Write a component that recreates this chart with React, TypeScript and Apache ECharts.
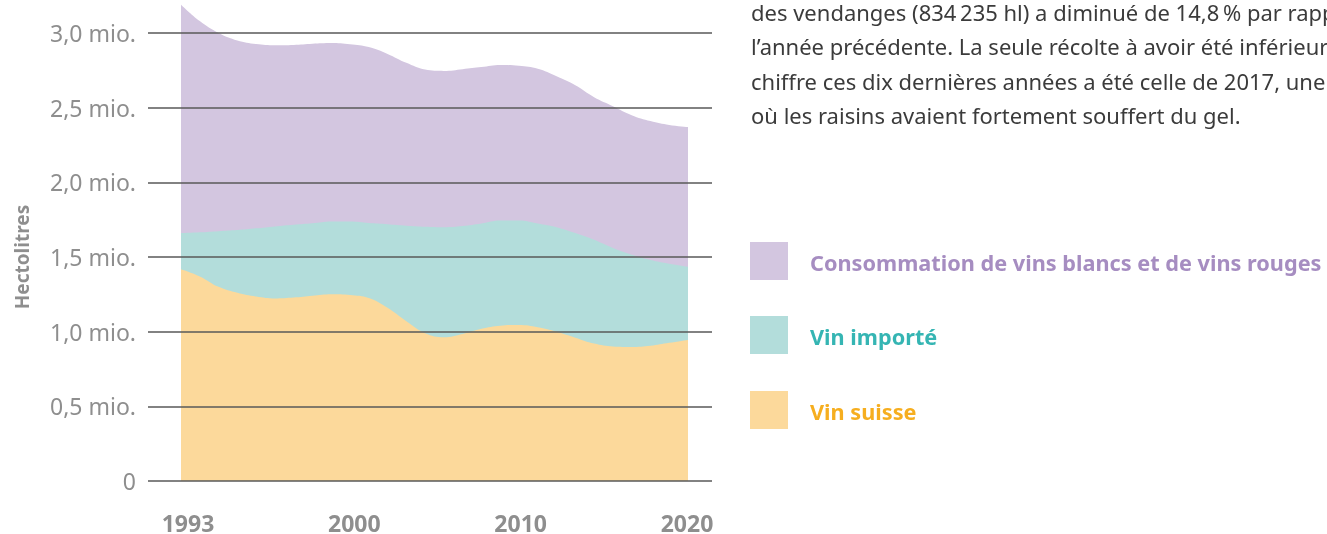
import React, { useEffect, useRef } from "react";
import * as echarts from "echarts";

const years = [1993, 1994, 1995, 1996, 1997, 1998, 1999, 2000, 2001, 2002, 2003, 2004, 2005, 2006, 2007, 2008, 2009, 2010, 2011, 2012, 2013, 2014, 2015, 2016, 2017, 2018, 2019, 2020];
// upper boundary of each layer, in millions of hectolitres
const consumptionTop = [3.19, 3.08, 3.0, 2.95, 2.926, 2.918, 2.92, 2.928, 2.933, 2.925, 2.906, 2.86, 2.8, 2.755, 2.746, 2.758, 2.772, 2.786, 2.78, 2.76, 2.71, 2.65, 2.57, 2.51, 2.45, 2.41, 2.384, 2.37];
const importedTop = [1.659, 1.665, 1.673, 1.68, 1.692, 1.705, 1.716, 1.726, 1.737, 1.738, 1.728, 1.72, 1.71, 1.703, 1.7, 1.708, 1.725, 1.745, 1.745, 1.725, 1.7, 1.66, 1.615, 1.56, 1.515, 1.48, 1.455, 1.435];
const swissTop = [1.418, 1.37, 1.3, 1.26, 1.235, 1.222, 1.228, 1.24, 1.25, 1.245, 1.225, 1.16, 1.07, 0.99, 0.963, 0.985, 1.02, 1.04, 1.045, 1.03, 1.0, 0.96, 0.92, 0.9, 0.897, 0.905, 0.925, 0.944];

const xTickLabels = ["1993", "2000", "2010", "2020"];
const yTicks = [0, 0.5, 1.0, 1.5, 2.0, 2.5, 3.0];

const seriesNames = ["Consommation de vins blancs et de vins rouges", "Vin importé", "Vin suisse"];
const fillColors = ["#d3c6e0", "#b3dddb", "#fcd99b"];
const textColors = ["#a68dc1", "#35b5b3", "#f6ae1f"];

const introLines = [
  "des vendanges (834\u2009235 hl) a diminué de 14,8\u2009% par rapport à",
  "l’année précédente. La seule récolte à avoir été inférieure à ce",
  "chiffre ces dix dernières années a été celle de 2017, une année",
  "où les raisins avaient fortement souffert du gel.",
];

const FONT = "'Noto Sans', 'Open Sans', sans-serif";

export default function App() {
  const ref = useRef<HTMLDivElement>(null);
  useEffect(() => {
    if (!ref.current) return;
    const chart = echarts.init(ref.current, undefined, { renderer: "svg" });
    const layers = [consumptionTop, importedTop, swissTop];

    const graphics: any[] = [];
    introLines.forEach((line, i) => {
      graphics.push({
        type: "text",
        x: 751,
        y: 12 + i * 34.4,
        style: { text: line, fill: "#3b3b3b", font: `22px ${FONT}`, verticalAlign: "middle" },
      });
    });
    const legendTops = [242, 316, 391];
    seriesNames.forEach((name, i) => {
      graphics.push({
        type: "rect",
        shape: { x: 750, y: legendTops[i], width: 38, height: 38 },
        style: { fill: fillColors[i] },
      });
      graphics.push({
        type: "text",
        x: 810,
        y: legendTops[i] + 20,
        style: {
          text: name,
          fill: textColors[i],
          font: `bold 21.7px ${FONT}`,
          verticalAlign: "middle",
        },
      });
    });

    chart.setOption({
      animation: false,
      grid: [
        { left: 148, right: 1327 - 712, top: 33, bottom: 534 - 481 },
        { left: 181, right: 1327 - 688, top: 33, bottom: 534 - 481 },
        { left: 188, right: 1327 - 687, top: 33, bottom: 534 - 481 },
      ],
      xAxis: [
        { gridIndex: 0, type: "value", min: 0, max: 1, show: false },
        { gridIndex: 1, type: "value", min: years[0], max: years[years.length - 1], show: false },
        {
          gridIndex: 2,
          type: "category",
          data: xTickLabels,
          boundaryGap: false,
          axisLine: { show: false },
          axisTick: { show: false },
          splitLine: { show: false },
          axisLabel: {
            margin: 31,
            color: "#8e8e8e",
            fontFamily: FONT,
            fontWeight: "bold",
            fontSize: 23,
          },
        },
      ],
      yAxis: [
        {
          gridIndex: 0,
          type: "value",
          min: yTicks[0],
          max: yTicks[yTicks.length - 1],
          interval: 0.5,
          z: 10,
          name: "Hectolitres",
          nameLocation: "middle",
          nameRotate: 90,
          nameGap: 117,
          nameTextStyle: { color: "#8e8e8e", fontFamily: FONT, fontWeight: "bold", fontSize: 19 },
          axisLine: { show: false },
          axisTick: { show: false },
          splitLine: { show: true, lineStyle: { color: "#585858", width: 1.5 } },
          axisLabel: {
            margin: 12,
            color: "#8e8e8e",
            fontFamily: FONT,
            fontSize: 23,
            padding: [0, 0, 8, 0],
            formatter: (v: number) => (v === 0 ? "0" : v.toFixed(1).replace(".", ",") + " mio."),
          },
        },
        { gridIndex: 1, type: "value", min: yTicks[0], max: yTicks[yTicks.length - 1], show: false },
        { gridIndex: 2, type: "value", min: 0, max: 1, show: false },
      ],
      series: layers.map((vals, i) => ({
        name: seriesNames[i],
        type: "line",
        xAxisIndex: 1,
        yAxisIndex: 1,
        clip: false,
        data: years.map((y, k) => [y, vals[k]]),
        smooth: 0.4,
        symbol: "none",
        lineStyle: { width: 0 },
        areaStyle: { color: fillColors[i], opacity: 1, origin: "start" },
        z: 2 + i,
      })),
      graphic: graphics,
    });
    return () => chart.dispose();
  }, []);
  return (
    <div
      ref={ref}
      style={{ position: "fixed", left: 0, top: 0, width: 1327, height: 534 }}
    />
  );
}
